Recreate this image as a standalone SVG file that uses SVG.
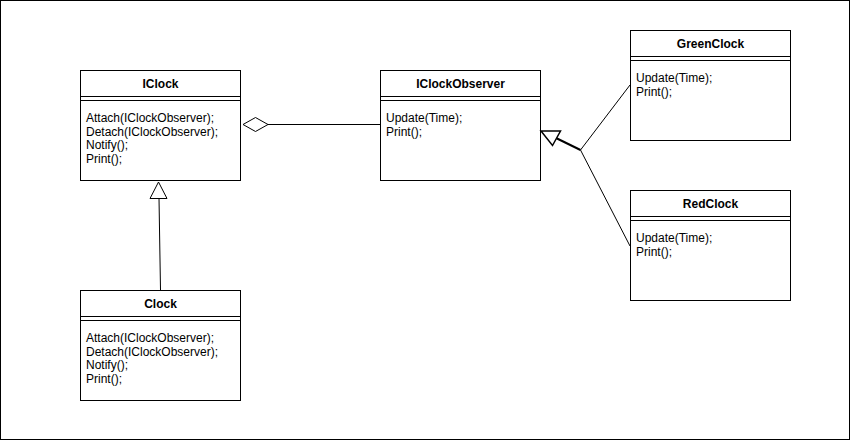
<svg xmlns="http://www.w3.org/2000/svg" width="851" height="441" viewBox="0 0 851 441">
<style>
.box{fill:#fff;stroke:#000;stroke-width:1}
.ln{stroke:#000;stroke-width:1;fill:none}
.t{font-family:"Liberation Sans",Arial,sans-serif;font-size:12px;fill:#000}
.h{font-family:"Liberation Sans",Arial,sans-serif;font-size:12px;font-weight:bold;fill:#000;text-anchor:middle}
</style>
<rect x="0.5" y="0.5" width="849" height="439" fill="#fff" stroke="#000" stroke-width="1"/>
<g id="IClock">
<rect class="box" x="80.5" y="70.5" width="160" height="110"/>
<line class="ln" x1="80.5" y1="96.5" x2="240.5" y2="96.5"/>
<line class="ln" x1="80.5" y1="100.5" x2="240.5" y2="100.5"/>
<text class="h" x="160.5" y="88">IClock</text>
<text class="t" x="86" y="122">Attach(IClockObserver);</text>
<text class="t" x="86" y="135.5">Detach(IClockObserver);</text>
<text class="t" x="86" y="149">Notify();</text>
<text class="t" x="86" y="162.5">Print();</text>
</g>
<g id="IClockObserver">
<rect class="box" x="380.5" y="70.5" width="160" height="110"/>
<line class="ln" x1="380.5" y1="96.5" x2="540.5" y2="96.5"/>
<line class="ln" x1="380.5" y1="100.5" x2="540.5" y2="100.5"/>
<text class="h" x="460.5" y="88">IClockObserver</text>
<text class="t" x="386" y="122">Update(Time);</text>
<text class="t" x="386" y="135.5">Print();</text>
</g>
<g id="GreenClock">
<rect class="box" x="630.5" y="30.5" width="160" height="110"/>
<line class="ln" x1="630.5" y1="56.5" x2="790.5" y2="56.5"/>
<line class="ln" x1="630.5" y1="60.5" x2="790.5" y2="60.5"/>
<text class="h" x="710.5" y="48">GreenClock</text>
<text class="t" x="636" y="82">Update(Time);</text>
<text class="t" x="636" y="95.5">Print();</text>
</g>
<g id="RedClock">
<rect class="box" x="630.5" y="190.5" width="160" height="110"/>
<line class="ln" x1="630.5" y1="216.5" x2="790.5" y2="216.5"/>
<line class="ln" x1="630.5" y1="220.5" x2="790.5" y2="220.5"/>
<text class="h" x="710.5" y="208">RedClock</text>
<text class="t" x="636" y="242">Update(Time);</text>
<text class="t" x="636" y="255.5">Print();</text>
</g>
<g id="Clock">
<rect class="box" x="80.5" y="290.5" width="160" height="110"/>
<line class="ln" x1="80.5" y1="316.5" x2="240.5" y2="316.5"/>
<line class="ln" x1="80.5" y1="320.5" x2="240.5" y2="320.5"/>
<text class="h" x="160.5" y="308">Clock</text>
<text class="t" x="86" y="342">Attach(IClockObserver);</text>
<text class="t" x="86" y="355.5">Detach(IClockObserver);</text>
<text class="t" x="86" y="369">Notify();</text>
<text class="t" x="86" y="382.5">Print();</text>
</g>
<g id="connectors">
<line class="ln" x1="268" y1="124.5" x2="380" y2="124.5"/>
<polygon points="243,124.5 255.5,117.5 268,124.5 255.5,131.5" fill="#fff" stroke="#000" stroke-width="1"/>
<line class="ln" x1="159" y1="198" x2="160.5" y2="290"/>
<polygon points="158.5,182 150,198.5 167,198.5" fill="#fff" stroke="#000" stroke-width="1"/>
<line x1="556" y1="138" x2="580.5" y2="150" stroke="#000" stroke-width="2"/>
<line class="ln" x1="580.5" y1="150" x2="630" y2="85"/>
<line class="ln" x1="580.5" y1="150" x2="630" y2="246"/>
<polygon points="541,131 560.5,131 552.5,145.5" fill="#fff" stroke="#000" stroke-width="1.5"/>
</g>
</svg>
